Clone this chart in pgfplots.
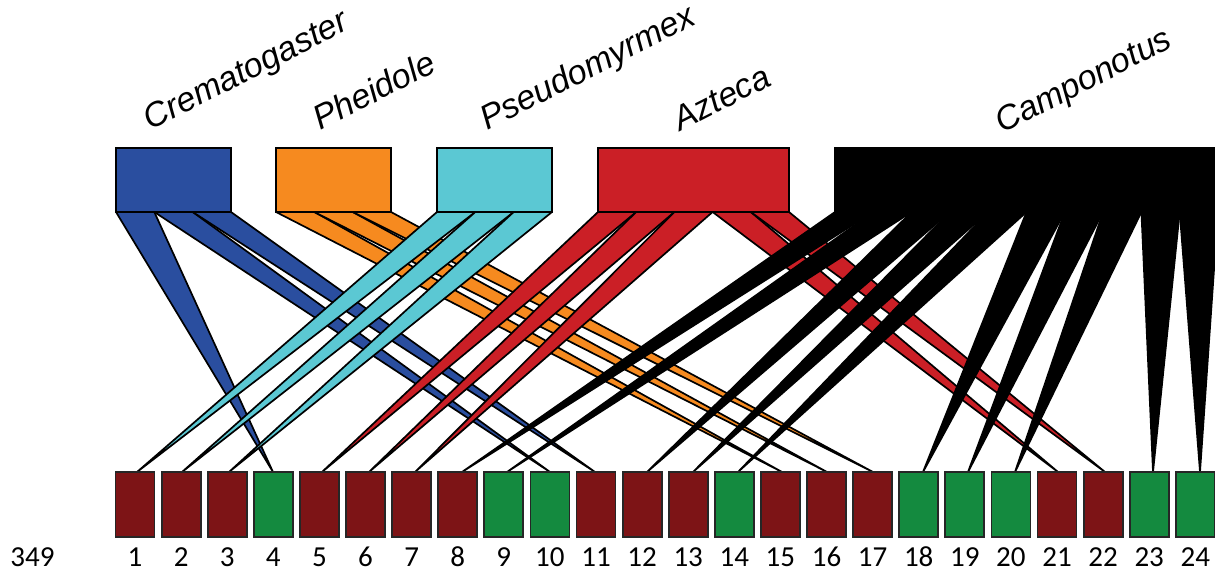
\documentclass[border=0pt]{standalone}
\usepackage{pgfplots}
\pgfplotsset{compat=1.18}
\usepackage{fontspec}
\setmainfont{Liberation Sans}
\newfontfamily\numfont{Carlito}

\definecolor{crema}{HTML}{2A4E9F}
\definecolor{pheid}{HTML}{F68A1F}
\definecolor{pseudo}{HTML}{5BC8D3}
\definecolor{azteca}{HTML}{CB1F26}
\definecolor{campo}{HTML}{000000}
\definecolor{plantA}{HTML}{7D1416}
\definecolor{plantB}{HTML}{148A3F}

\tikzset{
  link/.style={draw=black, line width=0.85pt, line join=round},
  genus/.style={draw=black, line width=1pt},
  plant/.style={draw=black!85, line width=0.9pt},
  genuslabel/.style={rotate=27, anchor=base west, inner sep=0pt,
    font=\fontsize{17}{17}\selectfont\itshape},
  plantlabel/.style={anchor=base, inner sep=0pt,
    font=\numfont\fontsize{14.5}{15}\selectfont},
}

\begin{document}
\begin{tikzpicture}
\begin{axis}[name=net, x=0.5pt, y=0.5pt,
  xmin=0, xmax=1215, ymin=0, ymax=571, y dir=reverse,
  hide axis, clip=true]

% --- interactions: Crematogaster
\addplot[link, fill=crema] coordinates {(116,212) (154.3,212) (273,472)} -- cycle;
\addplot[link, fill=crema] coordinates {(154.3,212) (192.7,212) (550,472)} -- cycle;
\addplot[link, fill=crema] coordinates {(192.7,212) (231,212) (595,472)} -- cycle;
% --- Pheidole
\addplot[link, fill=pheid] coordinates {(276,212) (314.3,212) (782,472)} -- cycle;
\addplot[link, fill=pheid] coordinates {(314.3,212) (352.7,212) (827,472)} -- cycle;
\addplot[link, fill=pheid] coordinates {(352.7,212) (391,212) (873,472)} -- cycle;
% --- Pseudomyrmex
\addplot[link, fill=pseudo] coordinates {(437,212) (475.3,212) (137,472)} -- cycle;
\addplot[link, fill=pseudo] coordinates {(475.3,212) (513.7,212) (182,472)} -- cycle;
\addplot[link, fill=pseudo] coordinates {(513.7,212) (552,212) (229,472)} -- cycle;
% --- Azteca
\addplot[link, fill=azteca] coordinates {(598,212) (636.2,212) (322,472)} -- cycle;
\addplot[link, fill=azteca] coordinates {(636.2,212) (674.4,212) (369,472)} -- cycle;
\addplot[link, fill=azteca] coordinates {(674.4,212) (712.6,212) (415,472)} -- cycle;
\addplot[link, fill=azteca] coordinates {(712.6,212) (750.8,212) (1058,472)} -- cycle;
\addplot[link, fill=azteca] coordinates {(750.8,212) (789,212) (1105,472)} -- cycle;
% --- Camponotus
\addplot[link, fill=campo] coordinates {(835,212) (873.3,212) (462,472)} -- cycle;
\addplot[link, fill=campo] coordinates {(873.3,212) (911.6,212) (507,472)} -- cycle;
\addplot[link, fill=campo] coordinates {(911.6,212) (949.9,212) (647,472)} -- cycle;
\addplot[link, fill=campo] coordinates {(949.9,212) (988.2,212) (693,472)} -- cycle;
\addplot[link, fill=campo] coordinates {(988.2,212) (1026.5,212) (738,472)} -- cycle;
\addplot[link, fill=campo] coordinates {(1026.5,212) (1064.8,212) (923,472)} -- cycle;
\addplot[link, fill=campo] coordinates {(1064.8,212) (1103.1,212) (968,472)} -- cycle;
\addplot[link, fill=campo] coordinates {(1103.1,212) (1141.4,212) (1015,472)} -- cycle;
\addplot[link, fill=campo] coordinates {(1141.4,212) (1179.7,212) (1153,472)} -- cycle;
\addplot[link, fill=campo] coordinates {(1179.7,212) (1218,212) (1200,472)} -- cycle;

% --- ant genera (upper level)
\addplot[genus, fill=crema]  coordinates {(116,148) (231,148) (231,212) (116,212)} -- cycle;
\addplot[genus, fill=pheid]  coordinates {(276,148) (391,148) (391,212) (276,212)} -- cycle;
\addplot[genus, fill=pseudo] coordinates {(437,148) (552,148) (552,212) (437,212)} -- cycle;
\addplot[genus, fill=azteca] coordinates {(598,148) (789,148) (789,212) (598,212)} -- cycle;
\addplot[genus, fill=campo]  coordinates {(835,148) (1218,148) (1218,212) (835,212)} -- cycle;

% --- plants (lower level)
\addplot[plant, fill=plantA] coordinates {(115.5,472) (154.5,472) (154.5,537) (115.5,537)} -- cycle;
\addplot[plant, fill=plantA] coordinates {(161.6,472) (200.6,472) (200.6,537) (161.6,537)} -- cycle;
\addplot[plant, fill=plantA] coordinates {(207.7,472) (246.7,472) (246.7,537) (207.7,537)} -- cycle;
\addplot[plant, fill=plantB] coordinates {(253.8,472) (292.8,472) (292.8,537) (253.8,537)} -- cycle;
\addplot[plant, fill=plantA] coordinates {(299.9,472) (338.9,472) (338.9,537) (299.9,537)} -- cycle;
\addplot[plant, fill=plantA] coordinates {(346.0,472) (385.0,472) (385.0,537) (346.0,537)} -- cycle;
\addplot[plant, fill=plantA] coordinates {(392.1,472) (431.1,472) (431.1,537) (392.1,537)} -- cycle;
\addplot[plant, fill=plantA] coordinates {(438.2,472) (477.2,472) (477.2,537) (438.2,537)} -- cycle;
\addplot[plant, fill=plantB] coordinates {(484.3,472) (523.3,472) (523.3,537) (484.3,537)} -- cycle;
\addplot[plant, fill=plantB] coordinates {(530.4,472) (569.4,472) (569.4,537) (530.4,537)} -- cycle;
\addplot[plant, fill=plantA] coordinates {(576.5,472) (615.5,472) (615.5,537) (576.5,537)} -- cycle;
\addplot[plant, fill=plantA] coordinates {(622.6,472) (661.6,472) (661.6,537) (622.6,537)} -- cycle;
\addplot[plant, fill=plantA] coordinates {(668.7,472) (707.7,472) (707.7,537) (668.7,537)} -- cycle;
\addplot[plant, fill=plantB] coordinates {(714.8,472) (753.8,472) (753.8,537) (714.8,537)} -- cycle;
\addplot[plant, fill=plantA] coordinates {(760.9,472) (799.9,472) (799.9,537) (760.9,537)} -- cycle;
\addplot[plant, fill=plantA] coordinates {(807.0,472) (846.0,472) (846.0,537) (807.0,537)} -- cycle;
\addplot[plant, fill=plantA] coordinates {(853.1,472) (892.1,472) (892.1,537) (853.1,537)} -- cycle;
\addplot[plant, fill=plantB] coordinates {(899.2,472) (938.2,472) (938.2,537) (899.2,537)} -- cycle;
\addplot[plant, fill=plantB] coordinates {(945.3,472) (984.3,472) (984.3,537) (945.3,537)} -- cycle;
\addplot[plant, fill=plantB] coordinates {(991.4,472) (1030.4,472) (1030.4,537) (991.4,537)} -- cycle;
\addplot[plant, fill=plantA] coordinates {(1037.5,472) (1076.5,472) (1076.5,537) (1037.5,537)} -- cycle;
\addplot[plant, fill=plantA] coordinates {(1083.6,472) (1122.6,472) (1122.6,537) (1083.6,537)} -- cycle;
\addplot[plant, fill=plantB] coordinates {(1129.7,472) (1168.7,472) (1168.7,537) (1129.7,537)} -- cycle;
\addplot[plant, fill=plantB] coordinates {(1175.8,472) (1214.8,472) (1214.8,537) (1175.8,537)} -- cycle;

% --- genus names
\node[genuslabel] at (axis cs:150,131) {Crematogaster};
\node[genuslabel] at (axis cs:320,131) {Pheidole};
\node[genuslabel] at (axis cs:487,131) {Pseudomyrmex};
\node[genuslabel] at (axis cs:680,132) {Azteca};
\node[genuslabel] at (axis cs:1002,134) {Camponotus};

% --- plant numbers
\node[plantlabel] at (axis cs:135.0,566) {1};
\node[plantlabel] at (axis cs:181.1,566) {2};
\node[plantlabel] at (axis cs:227.2,566) {3};
\node[plantlabel] at (axis cs:273.3,566) {4};
\node[plantlabel] at (axis cs:319.4,566) {5};
\node[plantlabel] at (axis cs:365.5,566) {6};
\node[plantlabel] at (axis cs:411.6,566) {7};
\node[plantlabel] at (axis cs:457.7,566) {8};
\node[plantlabel] at (axis cs:503.8,566) {9};
\node[plantlabel] at (axis cs:549.9,566) {10};
\node[plantlabel] at (axis cs:596.0,566) {11};
\node[plantlabel] at (axis cs:642.1,566) {12};
\node[plantlabel] at (axis cs:688.2,566) {13};
\node[plantlabel] at (axis cs:734.3,566) {14};
\node[plantlabel] at (axis cs:780.4,566) {15};
\node[plantlabel] at (axis cs:826.5,566) {16};
\node[plantlabel] at (axis cs:872.6,566) {17};
\node[plantlabel] at (axis cs:918.7,566) {18};
\node[plantlabel] at (axis cs:964.8,566) {19};
\node[plantlabel] at (axis cs:1010.9,566) {20};
\node[plantlabel] at (axis cs:1057.0,566) {21};
\node[plantlabel] at (axis cs:1103.1,566) {22};
\node[plantlabel] at (axis cs:1149.2,566) {23};
\node[plantlabel] at (axis cs:1195.3,566) {24};

\node[plantlabel, anchor=base west] at (axis cs:10,566) {349};
\end{axis}
\pgfresetboundingbox
\path (net.south west) rectangle (net.north east);
\end{tikzpicture}
\end{document}
